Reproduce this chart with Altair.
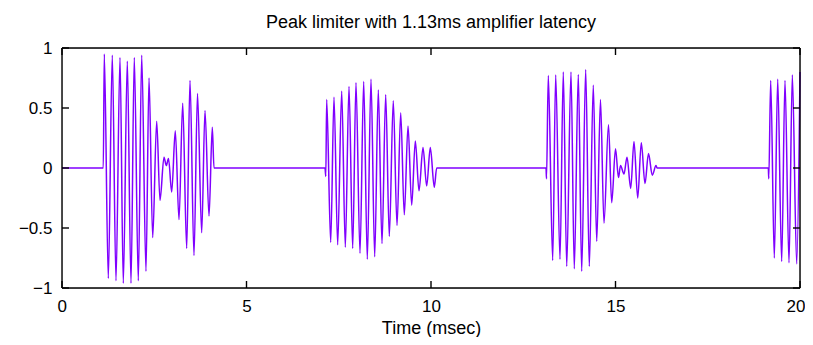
import altair as alt
import pandas as pd

# Extrema of the waveform (time in ms, amplitude)
b1_t = [1.119, 1.146, 1.255, 1.363, 1.463, 1.572, 1.661, 1.770, 1.870, 1.959, 2.068, 2.160,
        2.276, 2.358, 2.458, 2.566, 2.656, 2.764, 2.827, 2.886, 2.973, 3.070, 3.171, 3.271,
        3.379, 3.469, 3.577, 3.672, 3.786, 3.875, 3.984, 4.073, 4.119]
b1_v = [0.0, 0.95, -0.92, 0.94, -0.94, 0.92, -0.96, 0.89, -0.96, 0.92, -0.94, 0.94,
        -0.86, 0.75, -0.58, 0.39, -0.27, 0.09, 0.02, 0.08, -0.20, 0.31, -0.43, 0.54,
        -0.67, 0.73, -0.73, 0.62, -0.54, 0.48, -0.40, 0.34, 0.0]

b2_t = [7.127, 7.149, 7.173, 7.282, 7.371, 7.471, 7.580, 7.678, 7.778, 7.878, 7.967, 8.076,
        8.176, 8.274, 8.374, 8.474, 8.572, 8.672, 8.772, 8.870, 8.978, 9.079, 9.179, 9.276,
        9.377, 9.477, 9.575, 9.675, 9.783, 9.883, 9.981, 10.089, 10.154]
b2_v = [0.0, -0.07, 0.57, -0.62, 0.59, -0.64, 0.64, -0.66, 0.68, -0.67, 0.71, -0.71,
        0.72, -0.76, 0.74, -0.74, 0.65, -0.63, 0.61, -0.57, 0.56, -0.48, 0.46, -0.39,
        0.35, -0.31, 0.225, -0.19, 0.17, -0.15, 0.17, -0.16, 0.0]

b3_t = [13.117, 13.130, 13.179, 13.298, 13.379, 13.496, 13.585, 13.678, 13.794, 13.883,
        13.992, 14.084, 14.192, 14.290, 14.398, 14.491, 14.593, 14.688, 14.810, 14.897,
        15.000, 15.081, 15.136, 15.230, 15.312, 15.412, 15.501, 15.602, 15.699, 15.799,
        15.894, 15.997, 16.098, 16.125]
b3_v = [0.0, -0.09, 0.77, -0.77, 0.775, -0.76, 0.80, -0.82, 0.80, -0.84,
        0.78, -0.86, 0.82, -0.82, 0.69, -0.61, 0.57, -0.46, 0.36, -0.29,
        0.16, -0.08, 0.02, -0.05, 0.09, -0.17, 0.22, -0.25, 0.21, -0.13,
        0.12, -0.06, 0.02, 0.0]

b4_t = [19.141, 19.154, 19.206, 19.304, 19.396, 19.504, 19.593, 19.702, 19.792, 19.911, 20.0]
b4_v = [0.0, -0.09, 0.73, -0.75, 0.74, -0.78, 0.73, -0.79, 0.775, -0.80, 0.80]

x_ticks = [0, 5, 10, 15, 20]
y_ticks = [-1, -0.5, 0, 0.5, 1]

# plot-box edges in data units (top, bottom, left, right)
box_x = [0, 0, 0, 20]
box_x2 = [20, 20, 0, 20]
box_y = [1, -1, -1, -1]
box_y2 = [1, -1, 1, 1]

title_text = "Peak limiter with 1.13ms amplifier latency"
x_title = "Time (msec)"

t_all = [0.0] + b1_t + b2_t + b3_t + b4_t
v_all = [0.0] + b1_v + b2_v + b3_v + b4_v
sig = pd.DataFrame({"t": t_all, "v": v_all, "i": list(range(len(t_all)))})

W, H = 738, 240
TL = 7  # inward tick length (px)
FONT = "Liberation Sans"
X0, X1 = 0, 20
Y0, Y1 = -1, 1
dx = TL * (X1 - X0) / W   # tick length expressed along x
dy = TL * (Y1 - Y0) / H   # tick length expressed along y

xs = alt.Scale(domain=[X0, X1], nice=False, zero=False)
ys = alt.Scale(domain=[Y0, Y1], nice=False, zero=False)

# segments: frame edges + inward ticks on all four sides
seg_rows = [dict(bx=a, bx2=b, by=c, by2=d) for a, b, c, d in zip(box_x, box_x2, box_y, box_y2)]
for xv in x_ticks:
    seg_rows.append(dict(bx=xv, bx2=xv, by=Y0, by2=Y0 + dy))
    seg_rows.append(dict(bx=xv, bx2=xv, by=Y1, by2=Y1 - dy))
for yv in y_ticks:
    seg_rows.append(dict(bx=X0, bx2=X0 + dx, by=yv, by2=yv))
    seg_rows.append(dict(bx=X1, bx2=X1 - dx, by=yv, by2=yv))
segs = pd.DataFrame(seg_rows)

x_axis = alt.Axis(values=x_ticks, ticks=False, domain=False, grid=False,
                  labelFlush=True, labelFlushOffset=5,
                  labelPadding=10, titlePadding=5, labelFontSize=17,
                  titleFontSize=18, titleFontWeight="normal", labelFont=FONT,
                  titleFont=FONT, labelColor="black", titleColor="black")
y_axis = alt.Axis(values=y_ticks, ticks=False, domain=False, grid=False, labelFlush=False,
                  labelPadding=10, labelFontSize=17, labelFont=FONT,
                  labelColor="black", format="~g")

line = alt.Chart(sig).mark_line(
    color="#8000ff", strokeWidth=1.5, interpolate="monotone"
).encode(
    x=alt.X("t:Q", scale=xs, title=x_title, axis=x_axis),
    y=alt.Y("v:Q", scale=ys, title=None, axis=y_axis),
    order="i:Q",
)

frame = alt.Chart(segs).mark_rule(color="black", strokeWidth=1.4).encode(
    x=alt.X("bx:Q", scale=xs, axis=None), x2="bx2:Q",
    y=alt.Y("by:Q", scale=ys, axis=None), y2="by2:Q")

chart = alt.layer(line, frame).resolve_axis(
    x="independent", y="independent"
).properties(
    width=W, height=H,
    title=alt.TitleParams(title_text, anchor="middle", frame="group", offset=7,
                          fontSize=18, fontWeight="normal", font=FONT, color="black"),
    autosize=alt.AutoSizeParams(type="none"),
    padding={"left": 54, "top": 40, "right": 5, "bottom": 49},
).configure(background="white")

chart.save("out.html", embed_options={"renderer": "svg", "actions": False})
